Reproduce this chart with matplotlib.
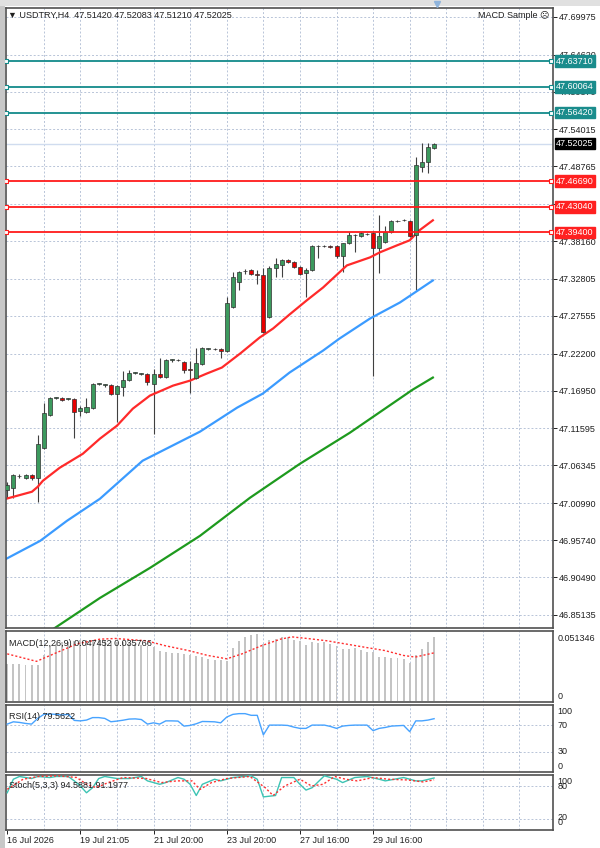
import matplotlib
matplotlib.use("Agg")
import matplotlib.pyplot as plt
from matplotlib.patches import Rectangle
from matplotlib.lines import Line2D
import matplotlib.transforms as mtransforms

plt.rcParams['font.family'] = ['Liberation Sans', 'DejaVu Sans']
plt.rcParams['font.size'] = 6.5

# ---------------- data ----------------
opens = [47.0290, 47.0318, 47.0489, 47.0460, 47.0503, 47.0460, 47.0887, 47.1356, 47.1597, 47.1597,
         47.1583, 47.1583, 47.1413, 47.1398, 47.1455, 47.1796, 47.1782, 47.1782, 47.1654, 47.1754,
         47.1853, 47.1953, 47.1938, 47.1938, 47.1796, 47.1938, 47.1896, 47.2137, 47.2137, 47.2109,
         47.2010, 47.1882, 47.2081, 47.2294, 47.2294, 47.2294, 47.2265, 47.2876, 47.3232, 47.3388,
         47.3402, 47.3345, 47.3331, 47.2748, 47.3431, 47.3473, 47.3544, 47.3516, 47.3445, 47.3359,
         47.3402, 47.3743, 47.3743, 47.3743, 47.3743, 47.3601, 47.3786, 47.3900, 47.3885, 47.3914,
         47.3928, 47.3715, 47.3800, 47.3942, 47.4099, 47.4113, 47.4099, 47.3900, 47.4866, 47.4937,
         47.51420]
highs = [47.0404, 47.0517, 47.0517, 47.0517, 47.0517, 47.1072, 47.1526, 47.1612, 47.1612, 47.1612,
         47.1597, 47.1597, 47.1484, 47.1597, 47.1811, 47.1811, 47.1796, 47.1796, 47.1782, 47.1981,
         47.1995, 47.1967, 47.1953, 47.1953, 47.2010, 47.2166, 47.2152, 47.2152, 47.2152, 47.2123,
         47.2123, 47.2308, 47.2322, 47.2308, 47.2308, 47.2308, 47.3018, 47.3374, 47.3388, 47.3416,
         47.3416, 47.3402, 47.3431, 47.3459, 47.3573, 47.3558, 47.3558, 47.3530, 47.3459, 47.3431,
         47.3757, 47.3757, 47.3757, 47.3757, 47.3757, 47.3786, 47.3942, 47.3914, 47.3942, 47.3928,
         47.3942, 47.4184, 47.4027, 47.4113, 47.4113, 47.4127, 47.4113, 47.5008, 47.5207, 47.5207,
         47.52083]
lows = [47.0176, 47.0176, 47.0460, 47.0446, 47.0432, 47.0119, 47.0873, 47.1342, 47.1583, 47.1555,
        47.1569, 47.1029, 47.1342, 47.1384, 47.1441, 47.1782, 47.1754, 47.1640, 47.1256, 47.1626,
        47.1839, 47.1938, 47.1924, 47.1782, 47.1086, 47.1882, 47.1882, 47.2109, 47.2123, 47.1953,
        47.1668, 47.1867, 47.2066, 47.2280, 47.2280, 47.2166, 47.2251, 47.2862, 47.3118, 47.3345,
        47.3331, 47.3203, 47.2521, 47.2734, 47.3303, 47.3303, 47.3502, 47.3431, 47.3331, 47.3018,
        47.3388, 47.3573, 47.3729, 47.3715, 47.3573, 47.3374, 47.3772, 47.3658, 47.3871, 47.3900,
        47.1910, 47.3359, 47.3786, 47.3928, 47.4084, 47.4099, 47.3871, 47.3118, 47.4795, 47.4781,
        47.51210]
closes = [47.0361, 47.0503, 47.0492, 47.0503, 47.0460, 47.0944, 47.1384, 47.1597, 47.1600, 47.1569,
          47.1585, 47.1398, 47.1455, 47.1469, 47.1796, 47.1798, 47.1784, 47.1654, 47.1768, 47.1853,
          47.1953, 47.1955, 47.1940, 47.1825, 47.1938, 47.1896, 47.2137, 47.2139, 47.2125, 47.1995,
          47.1995, 47.2095, 47.2308, 47.2296, 47.2292, 47.2265, 47.2933, 47.3303, 47.3374, 47.3390,
          47.3345, 47.3331, 47.2535, 47.3431, 47.3487, 47.3544, 47.3516, 47.3445, 47.3345, 47.3402,
          47.3743, 47.3745, 47.3745, 47.3729, 47.3601, 47.3786, 47.3900, 47.3902, 47.3928, 47.3916,
          47.3715, 47.3885, 47.3942, 47.4099, 47.4101, 47.4115, 47.3885, 47.4894, 47.4937, 47.5150,
          47.52025]

ma_red_x = [-0.2, 4.05, 5.0, 5.85, 8.6, 12.4, 15.2, 18.0, 20.6, 23.4, 27.2, 30.0, 32.7, 35.2,
            38.2, 41.4, 43.6, 46.3, 49.1, 51.8, 55.7, 59.5, 61.1, 63.9, 66.0, 67.6, 69.8]
ma_red_v = [47.0162, 47.0262, 47.0332, 47.0418, 47.0602, 47.0801, 47.1015, 47.1199, 47.1441,
            47.1626, 47.1768, 47.1839, 47.1938, 47.2024, 47.2223, 47.2450, 47.2578, 47.2777,
            47.2976, 47.3160, 47.3473, 47.3587, 47.3658, 47.3757, 47.3829, 47.3971, 47.4113]
ma_blue_x = [-0.2, 5.4, 9.8, 15.2, 22.2, 31.6, 37.7, 41.9, 46.3, 51.8, 54.5, 59.5, 64.4, 69.8]
ma_blue_v = [46.9309, 46.9565, 46.9850, 47.0162, 47.0702, 47.1114, 47.1455, 47.1654, 47.1953,
             47.2265, 47.2436, 47.2720, 47.2947, 47.3260]
ma_green_x = [5.0, 7.8, 15.2, 23.4, 31.6, 39.8, 48.0, 56.2, 66.5, 69.8]
ma_green_v = [46.815, 46.8329, 46.8755, 46.9181, 46.9636, 47.0176, 47.0659, 47.1100, 47.1711, 47.1882]

teal_levels = [47.63710, 47.60064, 47.56420]
red_levels = [47.46690, 47.43040, 47.39400]
bid_price = 47.52025

price_ticks = [47.69975, 47.64620, 47.59370, 47.54015, 47.48765, 47.43410, 47.38160, 47.32805,
               47.27555, 47.22200, 47.16950, 47.11595, 47.06345, 47.00990, 46.95740, 46.90490,
               46.85135]

macd_hist = [0.0277, 0.0277, 0.0272, 0.0269, 0.0264, 0.0269, 0.0343, 0.0406, 0.0424, 0.0436,
             0.0441, 0.0448, 0.0453, 0.0455, 0.0455, 0.0460, 0.0455, 0.0448, 0.0441, 0.0436,
             0.0431, 0.0424, 0.0416, 0.0411, 0.0399, 0.0375, 0.0362, 0.0357, 0.0357, 0.0350,
             0.0338, 0.0333, 0.0326, 0.0313, 0.0301, 0.0301, 0.0294, 0.0392, 0.0448, 0.0473,
             0.0492, 0.0497, 0.0424, 0.0455, 0.0460, 0.0473, 0.0473, 0.0455, 0.0448, 0.0416,
             0.0436, 0.0431, 0.0436, 0.0424, 0.0406, 0.0387, 0.0387, 0.0392, 0.0382, 0.0367,
             0.0362, 0.0326, 0.0326, 0.0321, 0.0321, 0.0313, 0.0284, 0.0338, 0.0387, 0.0436,
             0.047452]
macd_sig_x = [0, 4.8, 11.4, 15.2, 17.7, 22.8, 25.9, 29.7, 32.9, 36.0, 38.5, 41.7, 44.8, 46.7,
              49.2, 52.4, 55.5, 58.7, 61.9, 65.0, 66.9, 70]
macd_sig_v = [0.0350, 0.0294, 0.0424, 0.0460, 0.0465, 0.0448, 0.0411, 0.0375, 0.0338, 0.0313,
              0.0350, 0.0411, 0.0460, 0.0477, 0.0465, 0.0448, 0.0424, 0.0399, 0.0375, 0.0338,
              0.0326, 0.035766]

rsi = [71.5, 74.9, 74.0, 72.5, 71.5, 80.0, 86.0, 86.5, 86.0, 85.0, 86.0, 77.0, 76.3, 77.5, 81.2,
       81.2, 80.0, 75.0, 76.0, 77.3, 79.0, 79.3, 78.3, 71.5, 73.4, 71.5, 76.3, 76.3, 76.0, 68.5,
       69.5, 72.0, 75.4, 75.2, 74.9, 73.4, 82.0, 86.0, 87.1, 87.1, 84.6, 84.6, 55.4, 70.0, 70.0,
       70.0, 69.5, 67.0, 65.1, 65.1, 70.0, 70.0, 70.0, 68.0, 65.1, 68.5, 69.5, 70.0, 70.0, 70.0,
       61.7, 65.1, 66.5, 68.5, 69.0, 69.5, 60.2, 76.3, 76.3, 77.5, 79.5622]

stoch_main_x = [0, 1, 2, 4, 5, 7, 8, 10, 11, 12, 13, 14, 15, 16, 18, 20, 22, 23, 25, 26, 28, 29,
                30, 31, 32, 34, 35, 37, 40, 41, 42, 44, 45, 47, 48, 49, 50, 52, 54, 55, 57, 59,
                61, 62, 65, 67, 68, 70]
stoch_main_v = [67.7, 92.3, 97.3, 93.6, 97.3, 95.4, 97.3, 97.3, 89.3, 80.0, 67.7, 76.9, 93.6,
                97.3, 93.6, 93.6, 97.3, 89.3, 83.1, 86.2, 95.4, 92.3, 83.1, 62.7, 83.1, 92.3,
                89.3, 95.4, 98.5, 92.3, 60.2, 62.7, 95.4, 95.4, 83.1, 72.6, 76.9, 98.5, 92.3,
                86.2, 95.4, 97.3, 92.3, 89.3, 95.4, 89.3, 89.3, 94.5881]
stoch_sig_x = [0, 2.6, 5.1, 8.3, 11.4, 13.0, 14.6, 16.5, 19.0, 22.8, 25.3, 27.8, 30.3, 31.6,
               33.5, 36.0, 39.8, 42.3, 43.6, 45.5, 48.0, 49.9, 51.8, 53.7, 55.5, 57.4, 60.0,
               62.5, 65.6, 68.2, 70]
stoch_sig_v = [74.0, 92.3, 97.3, 98.5, 95.4, 83.1, 77.0, 86.0, 95.4, 93.6, 86.2, 89.3, 89.3,
               73.8, 86.2, 93.6, 97.3, 77.0, 62.7, 80.0, 92.3, 80.0, 83.1, 97.3, 92.3, 89.3,
               95.4, 92.3, 91.0, 87.4, 91.1977]

date_ticks = [0, 12, 24, 36, 48, 60]
date_labels = ["16 Jul 2026", "19 Jul 21:05", "21 Jul 20:00", "23 Jul 20:00", "27 Jul 16:00",
               "29 Jul 16:00"]

# ---------------- style ----------------
GRID = '#b8c4d8'
SPINE = '#505050'
XLIM = (-0.2, 89.5)
W, H = 600, 848

fig = plt.figure(figsize=(6, 8.48), dpi=100)
fig.patch.set_facecolor('white')

def frac_rect(x0, y0, x1, y1):
    return [x0 / W, 1 - y1 / H, (x1 - x0) / W, (y1 - y0) / H]

# window frame
fig.add_artist(Rectangle((0, 0), 5 / W, 1, transform=fig.transFigure, facecolor='#c8c8c8',
                         edgecolor='none'))
fig.add_artist(Rectangle((0, 1 - 6 / H), 1, 6 / H, transform=fig.transFigure,
                         facecolor='#e0e0e0', edgecolor='none'))

ax = fig.add_axes(frac_rect(6, 8, 553, 628))
axm = fig.add_axes(frac_rect(6, 631, 553, 702))
axr = fig.add_axes(frac_rect(6, 705, 553, 772))
axs = fig.add_axes(frac_rect(6, 775, 553, 830))

for a in (ax, axm, axr, axs):
    a.set_xlim(*XLIM)
    for s in a.spines.values():
        s.set_color(SPINE)
        s.set_linewidth(1.2)
    a.set_xticks([])
    for gx in range(6, 90, 6):
        a.axvline(gx, color=GRID, lw=0.7, ls=(0, (2, 2)), zorder=0)

# ---------------- main panel ----------------
ax.set_ylim(46.8329, 47.7125)
ax.yaxis.tick_right()
ax.set_yticks(price_ticks)
ax.set_yticklabels([f"{v:.5f}" for v in price_ticks])
ax.tick_params(axis='y', length=3, width=0.7, pad=1.5, labelsize=6.5, colors='#202020')
for v in price_ticks:
    ax.axhline(v, color=GRID, lw=0.7, ls=(0, (2, 2)), zorder=0)

ax.axhline(bid_price, color='#d0dcef', lw=1.0, zorder=0.5)

n = len(opens)
for i in range(n):
    o, h, l, c = opens[i], highs[i], lows[i], closes[i]
    ax.plot([i, i], [l, h], color='#404040', lw=0.8, zorder=2, solid_capstyle='butt')
    up = c >= o
    col = '#3c9a5e' if up else '#e80000'
    lo, hi = min(o, c), max(o, c)
    ax.add_patch(Rectangle((i - 0.33, lo), 0.66, hi - lo, facecolor=col, edgecolor='#303030',
                           lw=0.5, zorder=3))

ax.plot(ma_green_x, ma_green_v, color='#1e9a1e', lw=1.6, zorder=2.5)
ax.plot(ma_blue_x, ma_blue_v, color='#3b9bff', lw=1.6, zorder=2.5)
ax.plot(ma_red_x, ma_red_v, color='#ff2a2a', lw=1.6, zorder=2.5)

btrans = mtransforms.blended_transform_factory(ax.transAxes, ax.transData)
for lv in teal_levels:
    ax.axhline(lv, color='#138a8a', lw=1.3, zorder=4)
    ax.plot([0.0, 0.996], [lv, lv], transform=btrans, ls='none', marker='s', ms=3,
            mfc='white', mec='#138a8a', mew=0.8, zorder=5, clip_on=False)
    ax.text(1.006, lv, f"{lv:.5f}", transform=btrans, ha='left', va='center', color='white',
            fontsize=6.5, zorder=6, clip_on=False,
            bbox=dict(boxstyle='square,pad=0.15', facecolor='#1a8c8c', edgecolor='#1a8c8c'))
for lv in red_levels:
    ax.axhline(lv, color='#ff1a1a', lw=1.3, zorder=4)
    ax.plot([0.0, 0.996], [lv, lv], transform=btrans, ls='none', marker='s', ms=3,
            mfc='white', mec='#ff1a1a', mew=0.8, zorder=5, clip_on=False)
    ax.text(1.006, lv, f"{lv:.5f}", transform=btrans, ha='left', va='center', color='white',
            fontsize=6.5, zorder=6, clip_on=False,
            bbox=dict(boxstyle='square,pad=0.15', facecolor='#ff2020', edgecolor='#ff2020'))
ax.text(1.006, bid_price, f"{bid_price:.5f}", transform=btrans, ha='left', va='center',
        color='white', fontsize=6.5, zorder=6, clip_on=False,
        bbox=dict(boxstyle='square,pad=0.15', facecolor='black', edgecolor='black'))

ax.text(0.004, 0.988, "▼ USDTRY,H4  47.51420 47.52083 47.51210 47.52025", transform=ax.transAxes,
        ha='left', va='center', fontsize=6.5, color='#202020', zorder=7)
ax.text(0.993, 0.988, "MACD Sample ☹", transform=ax.transAxes, ha='right', va='center',
        fontsize=6.5, color='#202020', zorder=7)

# tiny marker in top frame
fig.add_artist(Line2D([437 / W], [1 - 4 / H], transform=fig.transFigure, marker='v', ms=5,
                      color='#8fb4dc', ls='none'))

# ---------------- MACD ----------------
axm.set_ylim(-0.001, 0.0521)
axm.set_yticks([])
axm.bar(range(n), macd_hist, width=0.32, color='#c4c4c4', zorder=2)
axm.plot(macd_sig_x, macd_sig_v, color='#ff3030', lw=1.0, ls=(0, (1.5, 1.5)), zorder=3)
axm.text(0.006, 0.82, "MACD(12,26,9) 0.047452 0.035766", transform=axm.transAxes, ha='left',
         va='center', fontsize=6.5, color='#202020', zorder=5)
for txt, fy in (("0.051346", 0.90), ("0", 0.08)):
    axm.text(1.008, fy, txt, transform=axm.transAxes, ha='left', va='center', fontsize=6.5,
             color='#202020', clip_on=False)

# ---------------- RSI ----------------
axr.set_ylim(0, 100)
axr.set_yticks([])
for lv in (70, 30):
    axr.axhline(lv, color=GRID, lw=0.7, ls=(0, (2, 2)), zorder=0)
axr.plot(range(n), rsi, color='#47a3ff', lw=1.0, zorder=3)
axr.text(0.006, 0.83, "RSI(14) 79.5622", transform=axr.transAxes, ha='left', va='center',
         fontsize=6.5, color='#202020', zorder=5)
for txt, fy in (("100", 0.90), ("70", 0.70), ("30", 0.30), ("0", 0.08)):
    axr.text(1.008, fy, txt, transform=axr.transAxes, ha='left', va='center', fontsize=6.5,
             color='#202020', clip_on=False)

# ---------------- Stochastic ----------------
axs.set_ylim(0, 100)
axs.set_yticks([])
for lv in (80, 20):
    axs.axhline(lv, color=GRID, lw=0.7, ls=(0, (2, 2)), zorder=0)
axs.plot(stoch_main_x, stoch_main_v, color='#3cc4b4', lw=1.0, zorder=3)
axs.plot(stoch_sig_x, stoch_sig_v, color='#ff3030', lw=1.0, ls=(0, (1.5, 1.5)), zorder=3)
axs.text(0.006, 0.80, "Stoch(5,3,3) 94.5881 91.1977", transform=axs.transAxes, ha='left',
         va='center', fontsize=6.5, color='#202020', zorder=5)
for txt, fy in (("100", 0.88), ("80", 0.79), ("20", 0.22), ("0", 0.13)):
    axs.text(1.008, fy, txt, transform=axs.transAxes, ha='left', va='center', fontsize=6.5,
             color='#202020', clip_on=False)

axs.set_xticks(date_ticks)
axs.set_xticklabels(date_labels, ha='left')
axs.tick_params(axis='x', length=3, width=0.7, pad=1.5, labelsize=6.5, colors='#202020')

fig.savefig("out.png", dpi=100, facecolor='white')
